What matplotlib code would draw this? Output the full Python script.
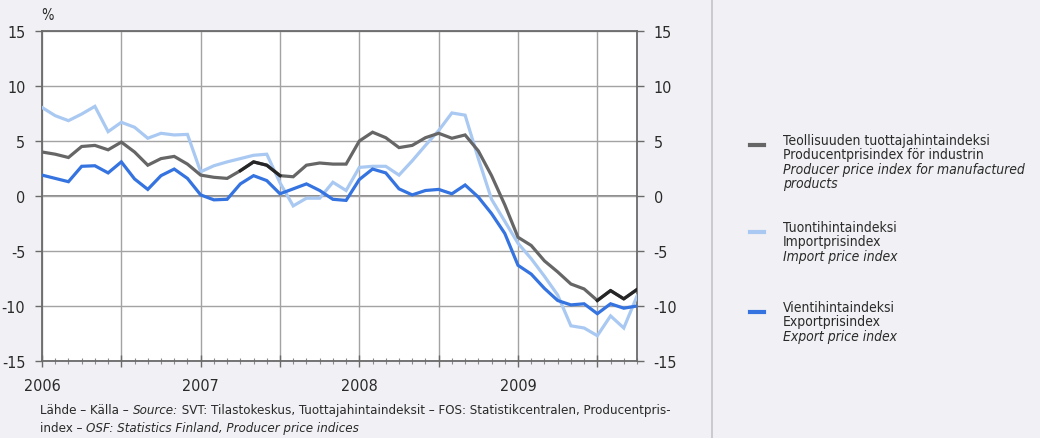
import matplotlib
matplotlib.use("Agg")
import matplotlib.pyplot as plt
from matplotlib.lines import Line2D
import numpy as np

plt.rcParams['font.family'] = ['DejaVu Sans']
plt.rcParams['font.stretch'] = 'condensed'

# ---- data (monthly, Jan 2006 .. Oct 2009), annual change %
producer = [4.0, 3.8, 3.5, 4.5, 4.6, 4.2, 4.9, 4.0, 2.8, 3.4, 3.6, 2.9,
            1.9, 1.7, 1.6, 2.3, 3.1, 2.8, 1.85, 1.75, 2.8, 3.0, 2.9, 2.9,
            5.0, 5.8, 5.3, 4.4, 4.6, 5.3, 5.7, 5.25, 5.55, 4.1, 1.85, -0.8,
            -3.75, -4.5, -5.9, -6.9, -8.0, -8.45, -9.5, -8.6, -9.35, -8.5]
imports = [8.05, 7.3, 6.85, 7.45, 8.15, 5.85, 6.7, 6.25, 5.25, 5.7, 5.55, 5.6,
           2.2, 2.75, 3.1, 3.4, 3.7, 3.8, 1.2, -0.9, -0.2, -0.2, 1.25, 0.5,
           2.6, 2.7, 2.7, 1.9, 3.2, 4.6, 5.95, 7.55, 7.35, 3.4, -0.3, -2.3,
           -4.3, -5.7, -7.3, -9.0, -11.8, -12.0, -12.7, -10.9, -12.0, -9.1]
exports = [1.9, 1.6, 1.3, 2.7, 2.75, 2.1, 3.1, 1.55, 0.6, 1.85, 2.45, 1.6,
           0.1, -0.35, -0.3, 1.1, 1.85, 1.4, 0.2, 0.65, 1.1, 0.5, -0.3, -0.4,
           1.5, 2.45, 2.1, 0.65, 0.1, 0.5, 0.6, 0.2, 1.0, -0.1, -1.6, -3.4,
           -6.3, -7.1, -8.4, -9.5, -9.9, -9.8, -10.7, -9.8, -10.2, -10.0]
year_labels = ['2006', '2007', '2008', '2009']
y_ticks = [-15, -10, -5, 0, 5, 10, 15]

legend_texts = [
    ["Teollisuuden tuottajahintaindeksi", "Producentprisindex för industrin",
     "Producer price index for manufactured", "products"],
    ["Tuontihintaindeksi", "Importprisindex", "Import price index"],
    ["Vientihintaindeksi", "Exportprisindex", "Export price index"],
]
legend_italic_from = [2, 2, 2]

C_GRAY = '#666666'
C_LIGHT = '#a9c9f2'
C_DARK = '#3473e0'
C_TEXT = '#2a2a2a'

W, H = 1040, 439
fig = plt.figure(figsize=(W / 100, H / 100), dpi=100)
fig.patch.set_facecolor('#f1f1f5')

def fx(px):
    return px / W

def fy(py):
    return 1 - py / H

ax = fig.add_axes([fx(42), fy(362), fx(637) - fx(42), fy(32) - fy(362)])
ax.set_facecolor('white')

n = len(producer)
x = np.arange(n)

ax.plot(x, imports, color=C_LIGHT, lw=2.3, solid_joinstyle='miter', zorder=3)
ax.plot(x, producer, color=C_GRAY, lw=2.3, solid_joinstyle='miter', zorder=4)
# darker printed segments of the producer line
ax.plot(x[15:19], producer[15:19], color='#262626', lw=2.3, zorder=4.5)
ax.plot(x[42:46], producer[42:46], color='#262626', lw=2.3, zorder=4.5)
ax.plot(x, exports, color=C_DARK, lw=2.3, solid_joinstyle='miter', zorder=5)

ax.set_xlim(0, n - 1)
ax.set_ylim(-15, 15)

major = np.arange(0, n, 6)
ax.set_xticks(major)
ax.set_xticklabels([year_labels[i // 12] if i % 12 == 0 else '' for i in major])
ax.set_xticks(np.arange(0, n), minor=True)
ax.set_yticks(y_ticks)
ax.set_yticklabels([str(v) for v in y_ticks])

ax.grid(True, which='major', color='#a3a3a3', lw=1.0, zorder=1)
ax.axhline(0, color='#6a6a6a', lw=1.1, zorder=1.5)

for s in ax.spines.values():
    s.set_color('#6a6a6a')
    s.set_linewidth(1.3)

ax.tick_params(axis='y', which='major', left=True, right=True, labelleft=True,
               labelright=True, length=5, width=1, color='#6a6a6a',
               labelsize=11.5, labelcolor=C_TEXT, pad=7)
ax.tick_params(axis='x', which='major', direction='inout', length=8, width=1,
               color='#6a6a6a', labelsize=11.5, labelcolor=C_TEXT, pad=8)
ax.tick_params(axis='x', which='minor', direction='inout', length=5, width=0.8,
               color='#8a8a8a')

fig.text(fx(47), fy(15), '%', fontsize=10.5, color=C_TEXT, ha='center', va='center')

# separator line
fig.add_artist(Line2D([fx(712), fx(712)], [0, 1], color='#c4c4c8', lw=1.2))

# legend
legend_colors = [C_GRAY, C_LIGHT, C_DARK]
legend_y0 = [141, 228, 308]
for col, texts, y0, itf in zip(legend_colors, legend_texts, legend_y0, legend_italic_from):
    fig.add_artist(Line2D([fx(750), fx(764)], [fy(y0 + 5), fy(y0 + 5)], color=col, lw=3))
    for k, t in enumerate(texts):
        fig.text(fx(783), fy(y0 + 14.3 * k), t, fontsize=10, color=C_TEXT,
                 ha='left', va='center', style='italic' if k >= itf else 'normal')

# source text with mixed styles
pieces1 = [("Lähde – Källa – ", 'normal'), ("Source:", 'italic'),
           (" SVT: Tilastokeskus, Tuottajahintaindeksit – FOS: Statistikcentralen, Producentpris-", 'normal')]
pieces2 = [("index – ", 'normal'), ("OSF: Statistics Finland, Producer price indices", 'italic')]

for pieces, yy in [(pieces1, 411), (pieces2, 429)]:
    prev = None
    for txt, st in pieces:
        if prev is None:
            prev = fig.text(fx(40), fy(yy), txt, fontsize=9.5, color=C_TEXT,
                            ha='left', va='center', style=st)
        else:
            prev = ax.annotate(txt, xy=(1, 0.5), xycoords=prev, fontsize=9.5,
                               color=C_TEXT, ha='left', va='center', style=st)

fig.savefig('out.png', dpi=100, facecolor=fig.get_facecolor())
